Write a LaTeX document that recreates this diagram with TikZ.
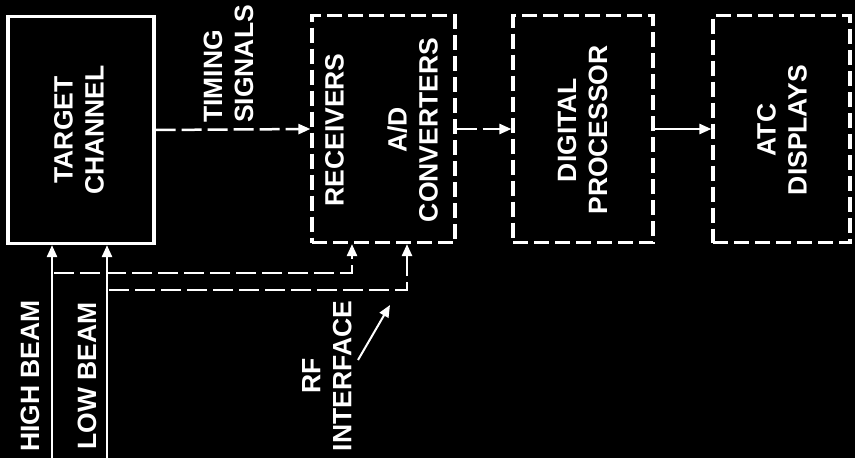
\documentclass[tikz,border=0pt]{standalone}
\usepackage{fontspec}
\setmainfont{Liberation Sans}
\usetikzlibrary{arrows.meta}
\begin{document}
\begin{tikzpicture}[x=1pt,y=-1pt]
\tikzset{
 blk/.style={draw=white, line width=3.2pt, minimum height=227pt, inner sep=0pt},
 dblk/.style={blk, dash pattern=on 15pt off 6pt},
 lbl/.style={text=white, font=\bfseries\fontsize{26.5}{31}\selectfont, rotate=90, align=center, inner sep=0pt},
 sig/.style={draw=white, line width=2.5pt, -{Triangle[length=12pt,width=10pt]}},
 dsig/.style={sig, dash pattern=on 20pt off 6pt},
}
\fill[black] (0,0) rectangle (855,458);
\useasboundingbox (0,0) rectangle (855,458);
% blocks
\node[blk, minimum width=146pt] (tc) at (81,130) {};
\node[dblk, minimum width=143pt] (rx) at (383.5,129) {};
\node[dblk, minimum width=140pt] (dp) at (583,129) {};
\node[dblk, minimum width=137pt] (atc) at (781.5,129) {};
% texts
\node[lbl] (tct) at (79,130) {TARGET\\CHANNEL};
\node[lbl] (rxt) at (381.5,130) {RECEIVERS\\[32pt]A/D\\CONVERTERS};
\node[lbl] (dpt) at (582.5,130) {DIGITAL\\PROCESSOR};
\node[lbl] (atct) at (782,130) {ATC\\DISPLAYS};
\node[lbl, anchor=west, align=left] (ts) at (228.5,123) {TIMING\\SIGNALS};
\node[lbl] (hbt) at (30,376) {HIGH BEAM};
\node[lbl] (lbt) at (87,376) {LOW BEAM};
\node[lbl] (rft) at (327,376) {RF\\INTERFACE};
% connectors
\draw[dsig] (tc.east) -- (rx.west);
\draw[dsig] (rx.east) -- (dp.west);
\draw[sig] (dp.east) -- (atc.west);
\coordinate (hb) at (52,458);
\coordinate (lb) at (107,458);
\draw[sig] (hb) -- (hb |- tc.south);
\draw[sig] (lb) -- (lb |- tc.south);
\coordinate (hbtap) at (54,273);
\coordinate (lbtap) at (109,290);
\coordinate (rx1) at (352,273);
\coordinate (rx2) at (407,290);
\draw[dsig] (hbtap) -- (rx1) -- (rx1 |- rx.south);
\draw[dsig] (lbtap) -- (rx2) -- (rx2 |- rx.south);
\coordinate (rfa) at (358,360);
\coordinate (rfb) at (390,305);
\draw[sig, line width=2pt] (rfa) -- (rfb);
\end{tikzpicture}
\end{document}
